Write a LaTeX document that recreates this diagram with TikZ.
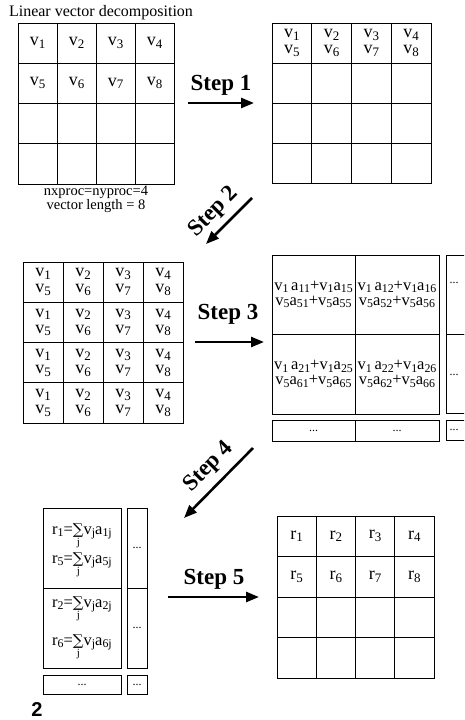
\documentclass[tikz,border=0pt]{standalone}
\usepackage{fontspec}
\setmainfont{Liberation Serif}
\newfontfamily\sansf{Liberation Sans}
\newfontfamily\dvs{DejaVu Serif}
\usetikzlibrary{arrows.meta}
\newcommand\lo[1]{\raisebox{-0.35ex}{\scalebox{0.72}{#1}}}
\newcommand\sumj{$\mathop{\hbox{\dvs\fontsize{15}{15}\selectfont ∑}}\limits_{\hbox{\fontsize{11}{11}\selectfont j}}$}
\begin{document}
\begin{tikzpicture}[x=1pt,y=-1pt,
  cell/.style={draw, line width=0.9pt, inner sep=0pt, anchor=center},
  vtxt/.style={font=\fontsize{18}{16}\selectfont, align=center, inner sep=0pt},
  atxt/.style={font=\fontsize{16.5}{15}\selectfont, align=center, inner sep=0pt},
  rtxt/.style={font=\fontsize{16.5}{16}\selectfont, inner sep=0pt, anchor=base},
  dots/.style={font=\fontsize{12}{12}\selectfont, inner sep=0pt},
  steparrow/.style={line width=2.6pt, -{Triangle[length=13pt,width=10pt]}},
  steplbl/.style={font=\fontsize{23}{23}\selectfont\bfseries, inner sep=0pt},
  plain/.style={font=\fontsize{14.5}{13}\selectfont, inner sep=0pt, align=center}]
\useasboundingbox (0,0) rectangle (464,720);
\clip (0,0) rectangle (464,720);

% ---- Grid 1
\node[plain, font=\fontsize{16}{16}\selectfont] (title) at (101,13) {Linear vector decomposition};
\foreach \r in {1,...,4}\foreach \c in {1,...,4}
  \node[cell, minimum width=39pt, minimum height=40.25pt] (a\r\c) at ({18+39*(\c-0.5)},{23+40.25*(\r-0.5)}) {};
\foreach \c in {1,...,4}{
  \pgfmathtruncatemacro\k{\c+4}
  \node[vtxt] at (a1\c) {v\lo{\c}};
  \node[vtxt] at (a2\c) {v\lo{\k}};
}
\node[plain] (info) at (96,199) {nxproc=nyproc=4\\vector length = 8};

% ---- Grid 2
\foreach \r in {1,...,4}\foreach \c in {1,...,4}
  \node[cell, minimum width=39.75pt, minimum height=40pt] (b\r\c) at ({272+39.75*(\c-0.5)},{23+40*(\r-0.5)}) {};
\foreach \c in {1,...,4}{
  \pgfmathtruncatemacro\k{\c+4}
  \node[vtxt] at (b1\c) {v\lo{\c}\\v\lo{\k}};
}

% ---- Grid 3
\foreach \r in {1,...,4}\foreach \c in {1,...,4}{
  \pgfmathtruncatemacro\k{\c+4}
  \node[cell, vtxt, minimum width=40pt, minimum height=40.25pt] (c\r\c) at ({23+40*(\c-0.5)},{262+40.25*(\r-0.5)}) {v\lo{\c}\\v\lo{\k}};
}

% ---- Grid 4
\node[cell, atxt, minimum width=83pt, minimum height=79pt] (d11) at (313.5,294.5) {v\lo1\,a\lo{11}+v\lo1a\lo{15}\\v\lo5a\lo{51}+v\lo5a\lo{55}};
\node[cell, atxt, minimum width=84pt, minimum height=79pt] (d12) at (397,294.5) {v\lo1\,a\lo{12}+v\lo1a\lo{16}\\v\lo5a\lo{52}+v\lo5a\lo{56}};
\node[cell, atxt, minimum width=83pt, minimum height=80pt] (d21) at (313.5,374) {v\lo1\,a\lo{21}+v\lo1a\lo{25}\\v\lo5a\lo{61}+v\lo5a\lo{65}};
\node[cell, atxt, minimum width=84pt, minimum height=80pt] (d22) at (397,374) {v\lo1\,a\lo{22}+v\lo1a\lo{26}\\v\lo5a\lo{62}+v\lo5a\lo{66}};
\node[cell, dots, minimum width=83pt, minimum height=21pt] (d31) at (313.5,430.5) {...};
\node[cell, dots, minimum width=84pt, minimum height=21pt] (d32) at (397,430.5) {...};
\node[cell, minimum width=26pt, minimum height=79pt] (e1) at (459,294.5) {};
\node[cell, minimum width=26pt, minimum height=79pt] (e2) at (459,373.5) {};
\node[cell, minimum width=26pt, minimum height=20pt] (e3) at (459,430) {};
\node[dots] at (454,283) {...};
\node[dots] at (454,375) {...};
\node[dots] at (454,430) {...};

% ---- Grid 5
\node[cell, minimum width=78pt, minimum height=80pt] (f1) at (82,548) {};
\node[cell, minimum width=78pt, minimum height=80pt] (f2) at (82,628) {};
\node[cell, dots, minimum width=20pt, minimum height=80pt] (g1) at (137,548) {...};
\node[cell, dots, minimum width=20pt, minimum height=80pt] (g2) at (137,628) {...};
\node[cell, dots, minimum width=78pt, minimum height=19pt] (f3) at (82,684.5) {...};
\node[cell, dots, minimum width=20pt, minimum height=19pt] (g3) at (137,684.5) {...};
\node[rtxt] (r1) at (82,534) {r\lo1=\sumj v\lo ja\lo{1j}};
\node[rtxt] (r5) at (82,563) {r\lo5=\sumj v\lo ja\lo{5j}};
\node[rtxt] (r2) at (82,607) {r\lo2=\sumj v\lo ja\lo{2j}};
\node[rtxt] (r6) at (82,645) {r\lo6=\sumj v\lo ja\lo{6j}};

% ---- Grid 6
\foreach \r in {1,...,4}\foreach \c in {1,...,4}
  \node[cell, minimum width=39.25pt, minimum height=40.5pt] (h\r\c) at ({277+39.25*(\c-0.5)},{516+40.5*(\r-0.5)}) {};
\foreach \c in {1,...,4}{
  \pgfmathtruncatemacro\k{\c+4}
  \node[vtxt] at (h1\c) {r\lo{\c}};
  \node[vtxt] at (h2\c) {r\lo{\k}};
}

% ---- Steps
\coordinate (s1a) at (188,103); \coordinate (s1b) at (254,103);
\draw[steparrow] (s1a) -- (s1b);
\node[steplbl] (l1) at (221,85) {Step 1};

\coordinate (s2a) at (252,198); \coordinate (s2b) at (206,244);
\draw[steparrow] (s2a) -- (s2b);
\node[steplbl, rotate=45] (l2) at (214,212) {Step 2};

\coordinate (s3a) at (195,342); \coordinate (s3b) at (264,342);
\draw[steparrow] (s3a) -- (s3b);
\node[steplbl] (l3) at (228,314) {Step 3};

\coordinate (s4a) at (253,448); \coordinate (s4b) at (184,518);
\draw[steparrow] (s4a) -- (s4b);
\node[steplbl, rotate=45] (l4) at (209,467) {Step 4};

\coordinate (s5a) at (168,597); \coordinate (s5b) at (259,597);
\draw[steparrow] (s5a) -- (s5b);
\node[steplbl] (l5) at (214,579) {Step 5};

\node[font=\sansf\bfseries\fontsize{20}{20}\selectfont, inner sep=0pt] (pg) at (37,710) {2};
\end{tikzpicture}
\end{document}
